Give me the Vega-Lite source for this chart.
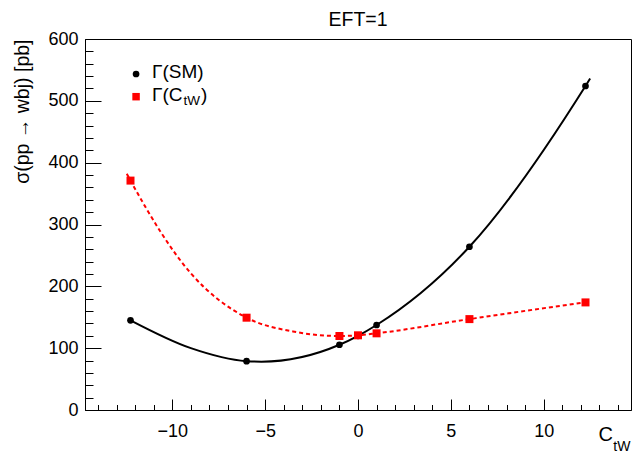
{
  "$schema": "https://vega.github.io/schema/vega-lite/v6.json",
  "width": 546,
  "height": 371,
  "autosize": {"type": "none"},
  "padding": {"left": 85, "top": 39, "right": 8, "bottom": 47},
  "background": "white",
  "config": {
    "view": {"stroke": "black", "strokeWidth": 1},
    "font": "Liberation Sans",
    "axis": {"grid": false, "domainColor": "black", "tickColor": "black", "labelColor": "black", "titleColor": "black", "labelFont": "Liberation Sans", "titleFont": "Liberation Sans", "titleFontWeight": "normal"}
  },
  "datasets": {
    "pts": [
      {"c": -12.25, "sigma": 145, "series": "SM"},
      {"c": -6, "sigma": 79, "series": "SM"},
      {"c": -1, "sigma": 105.5, "series": "SM"},
      {"c": 0, "sigma": 120, "series": "SM"},
      {"c": 1, "sigma": 137.5, "series": "SM"},
      {"c": 6, "sigma": 264, "series": "SM"},
      {"c": 12.25, "sigma": 524, "series": "SM"},
      {"c": -12.25, "sigma": 371, "series": "CtW"},
      {"c": -6, "sigma": 149.3, "series": "CtW"},
      {"c": -1, "sigma": 119.7, "series": "CtW"},
      {"c": 0, "sigma": 120.8, "series": "CtW"},
      {"c": 1, "sigma": 124, "series": "CtW"},
      {"c": 6, "sigma": 147, "series": "CtW"},
      {"c": 12.25, "sigma": 174, "series": "CtW"}
    ],
    "curve": [
      {"c": -12.25, "sigma": 145, "series": "SM"},
      {"c": -9, "sigma": 100, "series": "SM"},
      {"c": -6, "sigma": 79, "series": "SM"},
      {"c": -5.2, "sigma": 78.2, "series": "SM"},
      {"c": -1, "sigma": 105.5, "series": "SM"},
      {"c": 0, "sigma": 120, "series": "SM"},
      {"c": 1, "sigma": 137.5, "series": "SM"},
      {"c": 6, "sigma": 264, "series": "SM"},
      {"c": 12.25, "sigma": 524, "series": "SM"},
      {"c": 12.5, "sigma": 536, "series": "SM"},
      {"c": -12.45, "sigma": 382, "series": "CtW"},
      {"c": -12.25, "sigma": 371, "series": "CtW"},
      {"c": -9, "sigma": 221, "series": "CtW"},
      {"c": -6, "sigma": 149.3, "series": "CtW"},
      {"c": -3.5, "sigma": 127, "series": "CtW"},
      {"c": -1, "sigma": 119.7, "series": "CtW"},
      {"c": 0, "sigma": 120.8, "series": "CtW"},
      {"c": 1, "sigma": 124, "series": "CtW"},
      {"c": 6, "sigma": 147, "series": "CtW"},
      {"c": 12.25, "sigma": 174, "series": "CtW"},
      {"c": 12.5, "sigma": 175, "series": "CtW"}
    ]
  },
  "layer": [
    {
      "data": {"name": "curve"},
      "transform": [{"filter": "datum.series === 'SM'"}],
      "mark": {"type": "line", "color": "black", "strokeWidth": 2, "interpolate": "monotone"},
      "encoding": {
        "x": {"field": "c", "type": "quantitative", "scale": {"domain": [-14.7, 14.7], "nice": false, "zero": false},
          "axis": {"orient": "bottom", "values": [-10, -5, 0, 5, 10], "tickSize": -11, "labelFontSize": 18, "labelPadding": 23, "title": "C", "titleFontSize": 20, "titleAlign": "left", "titleBaseline": "alphabetic", "titleAngle": 0, "titleX": 513, "titleY": 30}},
        "y": {"field": "sigma", "type": "quantitative", "scale": {"domain": [0, 600], "nice": false, "zero": false},
          "axis": {"orient": "left", "values": [0, 100, 200, 300, 400, 500, 600], "tickSize": -16, "labelFontSize": 18, "labelPadding": 23, "title": "σ(pp → wbj) [pb]", "titleFontSize": 19.5, "titleAngle": -90, "titleAlign": "right", "titleBaseline": "alphabetic", "titleX": -57, "titleY": 0}}
      }
    },
    {
      "data": {"name": "curve"},
      "transform": [{"filter": "datum.series === 'CtW'"}],
      "mark": {"type": "line", "color": "#ff0000", "strokeWidth": 2, "strokeDash": [4, 3], "interpolate": "monotone"},
      "encoding": {
        "x": {"field": "c", "type": "quantitative",
          "axis": {"orient": "bottom", "values": [-14, -13, -12, -11, -9, -8, -7, -6, -4, -3, -2, -1, 1, 2, 3, 4, 6, 7, 8, 9, 11, 12, 13, 14], "tickSize": -5.5, "labels": false, "domain": false, "title": null}},
        "y": {"field": "sigma", "type": "quantitative",
          "axis": {"orient": "left", "values": [20, 40, 60, 80, 120, 140, 160, 180, 220, 240, 260, 280, 320, 340, 360, 380, 420, 440, 460, 480, 520, 540, 560, 580], "tickSize": -8, "labels": false, "domain": false, "title": null}}
      }
    },
    {
      "data": {"name": "pts"},
      "transform": [{"filter": "datum.series === 'SM'"}],
      "mark": {"type": "point", "shape": "circle", "filled": true, "color": "black", "opacity": 1, "size": 45},
      "encoding": {
        "x": {"field": "c", "type": "quantitative", "axis": null},
        "y": {"field": "sigma", "type": "quantitative", "axis": null}
      }
    },
    {
      "data": {"name": "pts"},
      "transform": [{"filter": "datum.series === 'CtW'"}],
      "mark": {"type": "point", "shape": "square", "filled": true, "color": "#ff0000", "opacity": 1, "size": 64},
      "encoding": {
        "x": {"field": "c", "type": "quantitative", "axis": null},
        "y": {"field": "sigma", "type": "quantitative", "axis": null}
      }
    },
    {
      "data": {"values": [{}]},
      "mark": {"type": "text", "align": "center", "baseline": "alphabetic", "font": "Liberation Sans", "fontSize": 19.5, "color": "black", "dy": -13},
      "encoding": {"x": {"datum": 0, "type": "quantitative", "axis": null}, "y": {"datum": 600, "type": "quantitative", "axis": null}, "text": {"value": "EFT=1"}}
    },
    {
      "data": {"values": [{}]},
      "mark": {"type": "point", "shape": "circle", "filled": true, "color": "black", "opacity": 1, "size": 45},
      "encoding": {"x": {"datum": -11.95, "type": "quantitative", "axis": null}, "y": {"datum": 543.4, "type": "quantitative", "axis": null}}
    },
    {
      "data": {"values": [{}]},
      "mark": {"type": "point", "shape": "square", "filled": true, "color": "#ff0000", "opacity": 1, "size": 56},
      "encoding": {"x": {"datum": -11.95, "type": "quantitative", "axis": null}, "y": {"datum": 506.7, "type": "quantitative", "axis": null}}
    },
    {
      "data": {"values": [{}]},
      "mark": {"type": "text", "align": "left", "baseline": "alphabetic", "font": "Liberation Sans", "fontSize": 19, "color": "black"},
      "encoding": {"x": {"datum": -11.09, "type": "quantitative", "axis": null}, "y": {"datum": 537.5, "type": "quantitative", "axis": null}, "text": {"value": "Γ(SM)"}}
    },
    {
      "data": {"values": [{}]},
      "mark": {"type": "text", "align": "left", "baseline": "alphabetic", "font": "Liberation Sans", "fontSize": 19, "color": "black"},
      "encoding": {"x": {"datum": -11.09, "type": "quantitative", "axis": null}, "y": {"datum": 500.5, "type": "quantitative", "axis": null}, "text": {"value": "Γ(C"}}
    },
    {
      "data": {"values": [{}]},
      "mark": {"type": "text", "align": "left", "baseline": "alphabetic", "font": "Liberation Sans", "fontSize": 13.5, "color": "black"},
      "encoding": {"x": {"datum": -9.4, "type": "quantitative", "axis": null}, "y": {"datum": 493.3, "type": "quantitative", "axis": null}, "text": {"value": "tW"}}
    },
    {
      "data": {"values": [{}]},
      "mark": {"type": "text", "align": "left", "baseline": "alphabetic", "font": "Liberation Sans", "fontSize": 19, "color": "black"},
      "encoding": {"x": {"datum": -8.45, "type": "quantitative", "axis": null}, "y": {"datum": 500.5, "type": "quantitative", "axis": null}, "text": {"value": ")"}}
    },
    {
      "data": {"values": [{}]},
      "mark": {"type": "text", "align": "left", "baseline": "alphabetic", "font": "Liberation Sans", "fontSize": 14, "color": "black", "dy": 41},
      "encoding": {"x": {"datum": 13.75, "type": "quantitative", "axis": null}, "y": {"datum": 0, "type": "quantitative", "axis": null}, "text": {"value": "tW"}}
    }
  ],
  "resolve": {"axis": {"x": "independent", "y": "independent"}}
}
